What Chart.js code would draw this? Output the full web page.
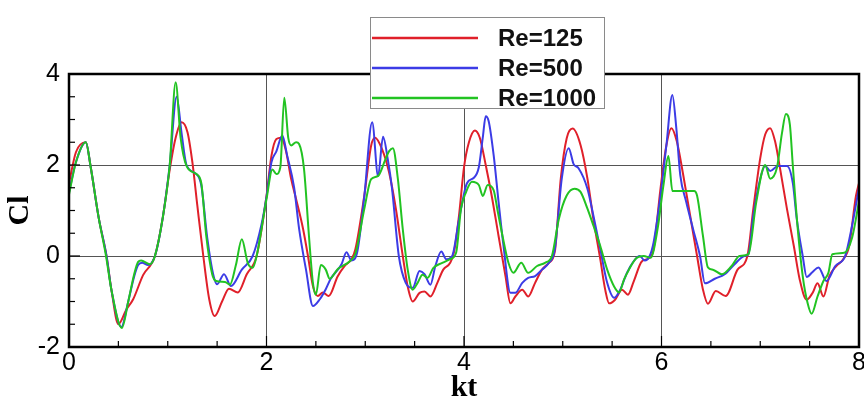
<!DOCTYPE html>
<html>
<head>
<meta charset="utf-8">
<script src="https://cdn.jsdelivr.net/npm/chart.js@4.4.1/dist/chart.umd.min.js"></script>
<style>
  body { margin: 0; background: #fff; }
  canvas { display: block; }
</style>
</head>
<body>
<canvas id="clChart" width="864" height="406"></canvas>
<script>
// [kt, Cl] pairs
const re125 = [[0,1.6],[0.07,2.28],[0.17,2.5],[0.22,1.95],[0.3,0.85],[0.38,0],[0.43,-0.75],[0.5,-1.5],[0.58,-1.18],[0.65,-0.95],[0.75,-0.42],[0.87,0],[0.95,0.85],[1.02,1.9],[1.08,2.6],[1.14,2.94],[1.2,2.72],[1.25,2.05],[1.3,1.1],[1.36,0],[1.42,-0.95],[1.475,-1.32],[1.55,-1.0],[1.62,-0.72],[1.71,-0.8],[1.8,-0.4],[1.9,0],[2.0,1.32],[2.05,2.2],[2.1,2.57],[2.15,2.6],[2.2,2.28],[2.25,1.69],[2.3,1.25],[2.37,0.6],[2.42,0],[2.47,-0.66],[2.52,-0.88],[2.57,-0.8],[2.63,-0.88],[2.72,-0.45],[2.79,-0.22],[2.86,-0.07],[2.9,0.15],[2.99,1.32],[3.06,2.43],[3.1,2.6],[3.17,2.35],[3.24,1.85],[3.31,1.04],[3.38,0],[3.43,-0.67],[3.48,-1.0],[3.55,-0.81],[3.6,-0.78],[3.66,-0.89],[3.73,-0.59],[3.79,-0.3],[3.86,-0.15],[3.9,0.1],[3.95,0.9],[4.0,1.95],[4.05,2.5],[4.11,2.76],[4.16,2.6],[4.22,2.0],[4.28,1.33],[4.35,0.44],[4.42,-0.44],[4.47,-1.04],[4.52,-0.89],[4.59,-0.74],[4.65,-0.89],[4.72,-0.59],[4.79,-0.3],[4.86,-0.15],[4.92,0.1],[4.98,1.7],[5.04,2.59],[5.1,2.8],[5.18,2.44],[5.25,1.7],[5.31,0.81],[5.38,-0.07],[5.43,-0.74],[5.47,-1.04],[5.53,-0.96],[5.6,-0.74],[5.66,-0.85],[5.72,-0.55],[5.8,-0.12],[5.87,-0.05],[5.92,0.15],[5.99,1.48],[6.05,2.44],[6.1,2.81],[6.155,2.52],[6.22,1.78],[6.29,0.89],[6.36,0],[6.42,-0.74],[6.47,-1.05],[6.55,-0.77],[6.65,-0.88],[6.77,-0.3],[6.87,0],[6.93,1.04],[7.0,2.15],[7.05,2.67],[7.1,2.81],[7.15,2.52],[7.2,1.93],[7.27,1.04],[7.34,0.22],[7.4,-0.52],[7.47,-0.96],[7.53,-0.81],[7.58,-0.6],[7.64,-0.89],[7.7,-0.44],[7.77,-0.22],[7.84,-0.07],[7.9,0.22],[7.97,1.33],[8.0,1.6]];

const re500 = [[0,1.4],[0.07,2.06],[0.17,2.5],[0.22,1.95],[0.3,0.85],[0.38,0],[0.43,-0.75],[0.53,-1.56],[0.6,-1.0],[0.66,-0.45],[0.7,-0.2],[0.74,-0.15],[0.8,-0.2],[0.87,0],[0.95,0.85],[1.02,2.0],[1.09,3.5],[1.14,2.7],[1.19,2.0],[1.29,1.8],[1.34,1.55],[1.4,0.4],[1.46,-0.4],[1.5,-0.62],[1.57,-0.4],[1.64,-0.66],[1.75,-0.3],[1.86,0],[1.95,0.7],[2.0,1.3],[2.05,2.06],[2.1,2.3],[2.16,2.65],[2.21,2.2],[2.28,1.5],[2.33,0.6],[2.4,-0.3],[2.47,-1.1],[2.54,-0.95],[2.6,-0.73],[2.65,-0.5],[2.76,-0.18],[2.81,0.08],[2.86,-0.1],[2.92,0.1],[2.99,1.3],[3.07,2.94],[3.13,1.76],[3.18,2.62],[3.23,2.1],[3.27,1.5],[3.34,0],[3.41,-0.59],[3.48,-0.7],[3.55,-0.33],[3.6,-0.4],[3.66,-0.63],[3.71,-0.22],[3.77,0.1],[3.82,-0.07],[3.88,0],[3.95,0.81],[4.03,1.6],[4.1,1.72],[4.15,1.95],[4.19,2.6],[4.22,3.07],[4.25,2.96],[4.3,2.22],[4.35,1.19],[4.4,0.22],[4.47,-0.81],[4.52,-0.81],[4.59,-0.59],[4.65,-0.48],[4.72,-0.44],[4.79,-0.3],[4.86,-0.15],[4.92,0.15],[4.99,1.7],[5.06,2.37],[5.11,2.02],[5.16,1.93],[5.25,1.48],[5.31,0.89],[5.38,0.15],[5.45,-0.59],[5.52,-0.92],[5.58,-0.75],[5.65,-0.37],[5.72,-0.11],[5.78,0],[5.83,-0.1],[5.88,0],[5.92,0.3],[5.99,1.33],[6.05,2.44],[6.11,3.54],[6.15,2.81],[6.19,1.78],[6.25,1.19],[6.32,0.59],[6.39,0],[6.44,-0.6],[6.54,-0.5],[6.64,-0.4],[6.74,-0.18],[6.84,0],[6.88,0.04],[6.93,0.89],[7.0,1.7],[7.05,1.98],[7.1,1.87],[7.18,1.98],[7.27,1.98],[7.33,1.6],[7.37,0.81],[7.43,0],[7.47,-0.46],[7.53,-0.35],[7.59,-0.25],[7.67,-0.55],[7.76,-0.22],[7.86,0],[7.93,0.67],[8.0,1.5]];

const re1000 = [[0,1.35],[0.07,2.06],[0.17,2.5],[0.22,1.95],[0.3,0.85],[0.375,0],[0.43,-0.75],[0.535,-1.58],[0.6,-1.0],[0.66,-0.4],[0.7,-0.13],[0.73,-0.1],[0.82,-0.18],[0.87,0],[0.95,0.85],[1.02,2.0],[1.08,3.82],[1.13,2.6],[1.19,1.98],[1.29,1.8],[1.34,1.6],[1.39,0.44],[1.45,-0.4],[1.49,-0.55],[1.58,-0.57],[1.63,-0.63],[1.69,-0.2],[1.75,0.37],[1.81,-0.15],[1.86,-0.26],[1.9,0],[2.0,1.25],[2.06,1.9],[2.1,1.8],[2.14,1.95],[2.18,3.48],[2.22,2.6],[2.25,2.43],[2.3,2.5],[2.33,2.46],[2.38,1.91],[2.43,0.44],[2.47,-0.59],[2.5,-0.85],[2.55,-0.2],[2.6,-0.3],[2.64,-0.5],[2.72,-0.29],[2.77,-0.22],[2.84,-0.12],[2.9,0.05],[2.99,1.03],[3.06,1.69],[3.13,1.76],[3.2,2.1],[3.24,2.3],[3.28,2.37],[3.33,1.7],[3.38,0.59],[3.43,-0.3],[3.48,-0.74],[3.53,-0.59],[3.58,-0.41],[3.63,-0.48],[3.69,-0.26],[3.78,-0.15],[3.86,-0.07],[3.92,0.07],[3.97,1.04],[4.02,1.4],[4.08,1.63],[4.15,1.56],[4.19,1.32],[4.24,1.56],[4.3,1.45],[4.34,1.0],[4.39,0.44],[4.45,-0.15],[4.5,-0.37],[4.58,-0.15],[4.65,-0.37],[4.74,-0.22],[4.82,-0.15],[4.89,0],[4.96,0.81],[5.04,1.33],[5.12,1.48],[5.18,1.41],[5.25,1.04],[5.31,0.67],[5.38,0.22],[5.45,-0.3],[5.52,-0.67],[5.57,-0.8],[5.62,-0.52],[5.67,-0.3],[5.75,-0.04],[5.82,0],[5.89,-0.04],[5.96,0.59],[6.02,1.56],[6.07,2.2],[6.11,1.43],[6.2,1.43],[6.33,1.43],[6.36,1.33],[6.42,0.44],[6.47,-0.25],[6.52,-0.3],[6.61,-0.4],[6.71,-0.22],[6.79,0],[6.88,0.04],[6.96,1.19],[7.05,2.0],[7.1,1.7],[7.17,1.95],[7.22,2.7],[7.26,3.12],[7.3,2.89],[7.33,1.98],[7.38,0.59],[7.43,-0.44],[7.48,-1.04],[7.52,-1.27],[7.58,-0.89],[7.64,-0.55],[7.69,-0.37],[7.73,0.04],[7.85,0.07],[7.93,0.4],[8.0,1.2]];

const seriesLabels = ['Re=125', 'Re=500', 'Re=1000'];
const seriesColors = ['#e0202a', '#3c3ce6', '#22c322'];
const xTicks = [0, 2, 4, 6, 8];
const yTicks = [-2, 0, 2, 4];

const toPoints = pairs => pairs.map(([x, y]) => ({ x, y }));

// inward minor/major ticks plus the black frame
const frame = {
    id: 'frame',
    afterDatasetsDraw(chart) {
        const { ctx, chartArea: a, scales: { x, y } } = chart;
        ctx.save();
        ctx.strokeStyle = '#000';
        ctx.lineWidth = 1.2;
        for (let v = 0.5; v < 8; v += 0.5) {
            const px = x.getPixelForValue(v);
            const len = v % 2 === 0 ? 11 : 6;
            ctx.beginPath();
            ctx.moveTo(px, a.bottom);
            ctx.lineTo(px, a.bottom - len);
            ctx.stroke();
        }
        for (let v = -1.5; v < 4; v += 0.5) {
            const py = y.getPixelForValue(v);
            const len = v % 2 === 0 ? 11 : 6;
            ctx.beginPath();
            ctx.moveTo(a.left, py);
            ctx.lineTo(a.left + len, py);
            ctx.stroke();
        }
        ctx.lineWidth = 2.5;
        ctx.strokeRect(a.left, a.top, a.right - a.left, a.bottom - a.top);
        ctx.restore();
    }
};

const legendBox = {
    id: 'legendBox',
    afterDraw(chart) {
        const { ctx } = chart;
        const left = 370, top = 17, w = 234, h = 91;
        ctx.save();
        ctx.fillStyle = '#fff';
        ctx.fillRect(left, top, w, h);
        ctx.strokeStyle = '#8a8a8a';
        ctx.lineWidth = 1;
        ctx.strokeRect(left + 0.5, top + 0.5, w, h);
        ctx.font = 'bold 24px "Liberation Sans", Arial, sans-serif';
        ctx.textBaseline = 'middle';
        chart.data.datasets.forEach((ds, i) => {
            const ly = top + 21 + i * 30;
            ctx.strokeStyle = ds.borderColor;
            ctx.lineWidth = 2.5;
            ctx.beginPath();
            ctx.moveTo(left + 2, ly);
            ctx.lineTo(left + 108, ly);
            ctx.stroke();
            ctx.fillStyle = '#111';
            ctx.fillText(ds.label, left + 128, ly + 1);
        });
        ctx.restore();
    }
};

const series = [re125, re500, re1000];

new Chart(document.getElementById('clChart'), {
    type: 'line',
    data: {
        datasets: series.map((pairs, i) => ({
            label: seriesLabels[i],
            data: toPoints(pairs),
            borderColor: seriesColors[i],
            borderWidth: 2,
            pointRadius: 0,
            cubicInterpolationMode: 'monotone',
            order: 3 - i
        }))
    },
    options: {
        responsive: false,
        animation: false,
        layout: { padding: { top: 74, right: 5, left: 0, bottom: 0 } },
        plugins: { legend: { display: false }, tooltip: { enabled: false } },
        scales: {
            x: {
                type: 'linear',
                min: 0,
                max: 8,
                afterBuildTicks: s => { s.ticks = xTicks.map(v => ({ value: v })); },
                ticks: {
                    color: '#000',
                    font: { family: '"Liberation Sans", Arial, sans-serif', size: 25 },
                    padding: 1,
                    maxRotation: 0
                },
                grid: { color: '#555', lineWidth: 1, drawTicks: false },
                border: { display: false },
                title: {
                    display: true,
                    text: 'kt',
                    color: '#000',
                    font: { family: '"Liberation Serif", "Times New Roman", serif', size: 30, weight: 'bold' },
                    padding: 0
                },
                afterFit: s => { s.height = 59; s.paddingLeft = 0; s.paddingRight = 0; }
            },
            y: {
                min: -2,
                max: 4,
                afterBuildTicks: s => { s.ticks = yTicks.map(v => ({ value: v })); },
                ticks: {
                    color: '#000',
                    font: { family: '"Liberation Sans", Arial, sans-serif', size: 25 },
                    padding: 9
                },
                grid: { color: '#555', lineWidth: 1, drawTicks: false },
                border: { display: false },
                title: {
                    display: true,
                    text: 'Cl',
                    color: '#000',
                    font: { family: '"Liberation Serif", "Times New Roman", serif', size: 30, weight: 'bold' },
                    padding: 2
                },
                afterFit: s => { s.width = 69; }
            }
        }
    },
    plugins: [frame, legendBox]
});
</script>
</body>
</html>
